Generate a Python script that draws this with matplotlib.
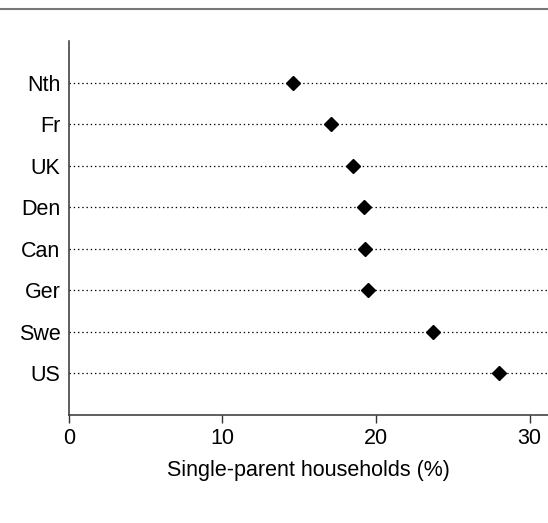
import matplotlib.pyplot as plt
from matplotlib.lines import Line2D

plt.rcParams['font.family'] = ['Liberation Sans', 'DejaVu Sans']

countries = ["Nth", "Fr", "UK", "Den", "Can", "Ger", "Swe", "US"]
single_parent = [14.6, 17.1, 18.5, 19.2, 19.3, 19.5, 23.7, 28.0]

fig = plt.figure(figsize=(5.48, 5.23), dpi=100)
ax = fig.add_axes([0.1255, 0.2065, 0.8745, 0.7150])

# top item first
ypos = list(range(len(countries), 0, -1))

for y in ypos:
    ax.axhline(y, color="black", lw=0.9, linestyle=(0, (1.1, 2.3)), zorder=1)
ax.plot(single_parent, ypos, linestyle="none", marker="D", ms=7,
        color="black", zorder=3)

ax.set_xlim(0, 31.2)
ax.set_ylim(0, 9)
ax.set_xticks([0, 10, 20, 30])
ax.set_yticks(ypos)
ax.set_yticklabels(countries)
ax.set_xlabel("Single-parent households (%)", fontsize=15.5, labelpad=8)

ax.tick_params(axis="x", length=5.5, width=1, color="#333333", labelsize=15.5, pad=4)
ax.tick_params(axis="y", length=0, labelsize=15.5, pad=6)

for s in ["top", "right"]:
    ax.spines[s].set_visible(False)
for s in ["left", "bottom"]:
    ax.spines[s].set_color("#333333")
    ax.spines[s].set_linewidth(1.1)

# thin rule across the top of the figure
fig.add_artist(Line2D([0, 1], [1 - 9 / 523, 1 - 9 / 523], transform=fig.transFigure,
                      color="#777777", lw=1.5))

fig.savefig("out.png", dpi=100)
